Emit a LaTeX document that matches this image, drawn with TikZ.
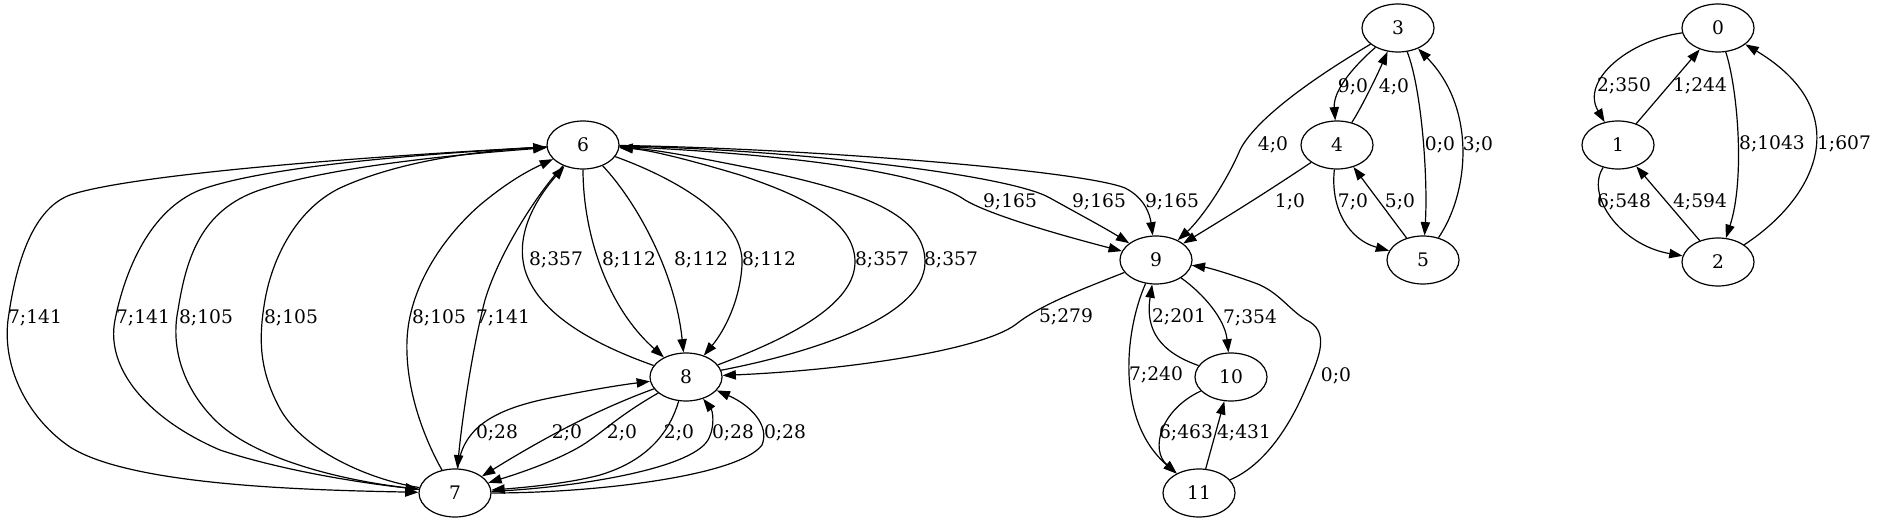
\documentclass[tikz,border=0pt]{standalone}
\usepackage{fontspec}
\setmainfont{DejaVu Serif}
\usepackage{tikz}
\usetikzlibrary{shapes, arrows.meta}
\tikzstyle{state} = [draw, ellipse, minimum width=54pt, minimum height=36pt, inner sep=0pt]
\tikzstyle{lbl} = [inner sep=0pt]
\begin{document}
\begin{tikzpicture}[>={Triangle[length=10pt,width=7pt]}, x=0.75pt, y=-0.75pt, line width=0.9pt, font=\fontsize{14pt}{16pt}\selectfont]
    \useasboundingbox (0,0) rectangle (1877,523);
    % states
    \node[state] (n6) at (583,145) {6};
    \node[state] (n7) at (455,493) {7};
    \node[state] (n8) at (686,377) {8};
    \node[state] (n9) at (1156,260) {9};
    \node[state] (n10) at (1231,377) {10};
    \node[state] (n11) at (1199,493) {11};
    \node[state] (n3) at (1398,28) {3};
    \node[state] (n4) at (1337,145) {4};
    \node[state] (n5) at (1423,260) {5};
    \node[state] (n0) at (1718,28) {0};
    \node[state] (n1) at (1618,145) {1};
    \node[state] (n2) at (1718,262) {2};
    % 6 <-> 7
    \draw[->] (n6) .. controls (300,160) and (120,178) .. (70,195) .. controls (30,210) and (15,270) .. (8,320) .. controls (2,370) and (30,420) .. (70,447) .. controls (130,485) and (300,490) .. (n7) node[lbl] (l1) at (35,318) {7;141};
    \draw[->] (n6) .. controls (400,155) and (260,168) .. (200,190) .. controls (150,210) and (125,270) .. (115,320) .. controls (105,370) and (150,420) .. (220,450) .. controls (280,470) and (360,483) .. (n7) node[lbl] (l2) at (143,318) {7;141};
    \draw[->] (n7) .. controls (330,480) and (250,455) .. (215,420) .. controls (185,390) and (170,350) .. (178,310) .. controls (186,260) and (200,210) .. (260,190) .. controls (330,167) and (450,155) .. (n6) node[lbl] (l3) at (206,318) {8;105};
    \draw[->] (n7) .. controls (370,480) and (300,450) .. (278,405) .. controls (260,370) and (258,340) .. (265,300) .. controls (272,260) and (295,210) .. (340,188) .. controls (390,165) and (460,152) .. (n6) node[lbl] (l4) at (291,318) {8;105};
    \draw[->] (n7) .. controls (425,440) and (405,390) .. (407,340) .. controls (409,290) and (440,240) .. (480,205) .. controls (510,180) and (530,170) .. (n6) node[lbl] (l5) at (439,318) {8;105};
    \draw[->] (n6) .. controls (540,190) and (500,250) .. (485,300) .. controls (472,350) and (462,420) .. (n7) node[lbl] (l6) at (503,318) {7;141};
    % 6 <-> 8
    \draw[->] (n8) .. controls (610,350) and (540,320) .. (525,270) .. controls (515,235) and (535,200) .. (n6) node[lbl] (l7) at (556,260) {8;357};
    \draw[->] (n6) .. controls (583,230) and (605,305) .. (n8) node[lbl] (l8) at (629,260) {8;112};
    \draw[->] (n6) .. controls (635,200) and (675,270) .. (n8) node[lbl] (l9) at (701,260) {8;112};
    \draw[->] (n6) .. controls (680,180) and (745,220) .. (742,265) .. controls (740,300) and (725,330) .. (n8) node[lbl] (l10) at (769,260) {8;112};
    \draw[->] (n8) .. controls (770,345) and (855,310) .. (855,262) .. controls (855,220) and (800,195) .. (740,175) .. controls (690,160) and (650,150) .. (n6) node[lbl] (l11) at (882,260) {8;357};
    \draw[->] (n8) .. controls (800,355) and (925,320) .. (925,262) .. controls (925,210) and (850,190) .. (760,170) .. controls (700,158) and (660,150) .. (n6) node[lbl] (l12) at (951,260) {8;357};
    % 6 -> 9, 9 -> 8
    \draw[->] (n6) .. controls (750,152) and (920,168) .. (965,200) .. controls (990,215) and (1060,235) .. (n9) node[lbl] (l13) at (1010,202) {9;165};
    \draw[->] (n6) .. controls (800,150) and (1010,175) .. (1050,198) .. controls (1075,212) and (1105,228) .. (n9) node[lbl] (l14) at (1099,202) {9;165};
    \draw[->] (n6) .. controls (800,148) and (1080,170) .. (1125,188) .. controls (1145,198) and (1150,215) .. (n9) node[lbl] (l15) at (1172,202) {9;165};
    \draw[->] (n9) .. controls (1080,290) and (1040,305) .. (1015,325) .. controls (980,350) and (850,370) .. (n8) node[lbl] (l16) at (1066,317) {5;279};
    % 7 <-> 8
    \draw[->] (n7) .. controls (462,430) and (490,410) .. (550,398) .. controls (590,390) and (620,385) .. (n8) node[lbl] (l17) at (497,433) {0;28};
    \draw[->] (n8) .. controls (610,405) and (560,428) .. (n7) node[lbl] (l18) at (567,433) {2;0};
    \draw[->] (n8) .. controls (620,415) and (605,430) .. (590,440) .. controls (570,455) and (530,470) .. (n7) node[lbl] (l19) at (622,433) {2;0};
    \draw[->] (n8) .. controls (670,430) and (650,460) .. (600,475) .. controls (570,483) and (530,487) .. (n7) node[lbl] (l20) at (679,433) {2;0};
    \draw[->] (n7) .. controls (570,488) and (690,470) .. (708,440) .. controls (716,425) and (712,410) .. (n8) node[lbl] (l21) at (733,433) {0;28};
    \draw[->] (n7) .. controls (600,493) and (740,475) .. (762,445) .. controls (770,425) and (750,405) .. (n8) node[lbl] (l22) at (785,433) {0;28};
    % 3, 4, 5
    \draw[->] (n3) .. controls (1310,80) and (1255,120) .. (1240,150) .. controls (1225,185) and (1200,220) .. (n9) node[lbl] (l23) at (1273,145) {4;0};
    \draw[->] (n4) .. controls (1270,190) and (1230,215) .. (n9) node[lbl] (l24) at (1290,202) {1;0};
    \draw[->] (n3) .. controls (1355,65) and (1333,90) .. (n4) node[lbl] (l25) at (1353,87) {9;0};
    \draw[->] (n4) .. controls (1360,110) and (1375,80) .. (n3) node[lbl] (l26) at (1394,87) {4;0};
    \draw[->] (n3) .. controls (1422,90) and (1428,180) .. (n5) node[lbl] (l27) at (1440,145) {0;0};
    \draw[->] (n5) .. controls (1468,195) and (1478,110) .. (n3) node[lbl] (l28) at (1478,145) {3;0};
    \draw[->] (n4) .. controls (1330,210) and (1350,240) .. (n5) node[lbl] (l29) at (1353,202) {7;0};
    \draw[->] (n5) -- (n4) node[lbl] (l30) at (1400,202) {5;0};
    % 9, 10, 11
    \draw[->] (n9) .. controls (1205,295) and (1225,320) .. (n10) node[lbl] (l31) at (1250,318) {7;354};
    \draw[->] (n10) .. controls (1160,352) and (1145,330) .. (n9) node[lbl] (l32) at (1179,317) {2;201};
    \draw[->] (n9) .. controls (1125,330) and (1115,420) .. (n11) node[lbl] (l33) at (1156,375) {7;240};
    \draw[->] (n10) .. controls (1160,410) and (1150,450) .. (n11) node[lbl] (l34) at (1186,433) {6;463};
    \draw[->] (n11) -- (n10) node[lbl] (l35) at (1244,433) {4;431};
    \draw[->] (n11) .. controls (1265,465) and (1290,425) .. (1305,390) .. controls (1318,360) and (1330,335) .. (1310,322) .. controls (1290,312) and (1280,292) .. (1255,283) .. controls (1230,274) and (1210,268) .. (n9) node[lbl] (l36) at (1336,376) {0;0};
    % 0, 1, 2
    \draw[->] (n0) .. controls (1630,40) and (1580,80) .. (n1) node[lbl] (l37) at (1624,86) {2;350};
    \draw[->] (n1) -- (n0) node[lbl] (l38) at (1700,86) {1;244};
    \draw[->] (n0) .. controls (1738,90) and (1745,180) .. (n2) node[lbl] (l39) at (1772,144) {8;1043};
    \draw[->] (n2) .. controls (1820,195) and (1855,110) .. (n0) node[lbl] (l40) at (1844,144) {1;607};
    \draw[->] (n1) .. controls (1585,195) and (1620,245) .. (n2) node[lbl] (l41) at (1624,202) {6;548};
    \draw[->] (n2) -- (n1) node[lbl] (l42) at (1700,202) {4;594};
\end{tikzpicture}
\end{document}
